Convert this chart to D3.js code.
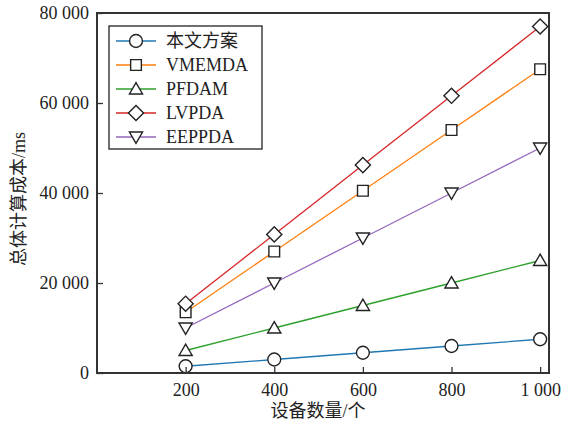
<!DOCTYPE html>
<html>
<head>
<meta charset="utf-8">
<script src="https://cdn.jsdelivr.net/npm/d3@7"></script>
<style>
  body { margin: 0; background: #fff; }
  text { font-family: "Liberation Serif", "Noto Sans CJK SC", serif; fill: #222; }
</style>
</head>
<body>
<svg id="chart" width="563" height="428"></svg>
<script>
// device counts on the x axis
var devices = [200, 400, 600, 800, 1000];

// total computation cost (ms) per scheme
var names = ['本文方案', 'VMEMDA', 'PFDAM', 'LVPDA', 'EEPPDA'];
var ours   = [1500, 3000, 4500, 6000, 7500];
var vmemda = [13500, 27000, 40500, 54000, 67500];
var pfdam  = [5000, 10000, 15000, 20000, 25000];
var lvpda  = [15400, 30800, 46200, 61600, 77000];
var eeppda = [10000, 20000, 30000, 40000, 50000];

var yTicks = [0, 20000, 40000, 60000, 80000];
var xTicks = [200, 400, 600, 800, 1000];

var colors  = ['#1f77b4', '#ff7f0e', '#2ca02c', '#d62728', '#9467bd'];
var symbols = [d3.symbolCircle, d3.symbolSquare, d3.symbolTriangle, d3.symbolSquare, d3.symbolTriangle];
var symSize = [130, 115, 75, 115, 75];
var symRot  = [0, 0, 0, 45, 180];

var series = [ours, vmemda, pfdam, lvpda, eeppda];

var svg = d3.select('#chart');
var m = { left: 97, right: 549, top: 13, bottom: 373 };

var x = d3.scaleLinear().domain([0, 1020]).range([m.left, m.right]);
var y = d3.scaleLinear().domain([0, 80000]).range([m.bottom, m.top]);

function fmt(v) {
  return d3.format(',')(v).replace(/,/g, ' ');
}

// lines
var line = d3.line()
  .x(function(d, i) { return x(devices[i]); })
  .y(function(d) { return y(d); });

series.forEach(function(s, k) {
  svg.append('path')
    .attr('d', line(s))
    .attr('fill', 'none')
    .attr('stroke', colors[k])
    .attr('stroke-width', 1.3);
});

function marker(g, k) {
  return g.append('path')
    .attr('d', d3.symbol().type(symbols[k]).size(symSize[k])())
    .attr('fill', '#fff')
    .attr('stroke', '#222')
    .attr('stroke-width', 1.4);
}

function tri(k) {
  return symbols[k] === d3.symbolTriangle ? (symRot[k] ? -1.2 : 1.2) : 0;
}

series.forEach(function(s, k) {
  s.forEach(function(v, i) {
    marker(svg, k)
      .attr('transform', 'translate(' + x(devices[i]) + ',' + (y(v) + tri(k)) + ') rotate(' + symRot[k] + ')');
  });
});

// axes (inward ticks)
var xAxis = d3.axisBottom(x).tickValues(xTicks).tickSizeInner(-6).tickSizeOuter(0)
  .tickPadding(10).tickFormat(fmt);
var yAxis = d3.axisLeft(y).tickValues(yTicks).tickSizeInner(-6).tickSizeOuter(0)
  .tickPadding(8).tickFormat(fmt);

var gx = svg.append('g').attr('transform', 'translate(0,' + m.bottom + ')').call(xAxis);
var gy = svg.append('g').attr('transform', 'translate(' + m.left + ',0)').call(yAxis);
[gx, gy].forEach(function(g) {
  g.select('.domain').remove();
  g.selectAll('.tick line').attr('stroke', '#333').attr('stroke-width', 1.3);
  g.selectAll('.tick text').style('font-size', '18px').attr('fill', '#222');
});

// frame
svg.append('rect')
  .attr('x', m.left).attr('y', m.top)
  .attr('width', m.right - m.left).attr('height', m.bottom - m.top)
  .attr('fill', 'none').attr('stroke', '#333').attr('stroke-width', 2);

// axis titles
svg.append('text')
  .attr('x', 318).attr('y', 417)
  .attr('text-anchor', 'middle').style('font-size', '18px')
  .text('设备数量/个');
svg.append('text')
  .attr('transform', 'translate(25,199) rotate(-90)')
  .attr('text-anchor', 'middle').style('font-size', '18px')
  .text('总体计算成本/ms');

// legend
var lg = svg.append('g').attr('transform', 'translate(109,26)');
lg.append('rect').attr('width', 153).attr('height', 123)
  .attr('fill', '#fff').attr('stroke', '#222').attr('stroke-width', 1.3);
names.forEach(function(n, k) {
  var ly = 15 + k * 24;
  lg.append('line').attr('x1', 7).attr('x2', 47).attr('y1', ly).attr('y2', ly)
    .attr('stroke', colors[k]).attr('stroke-width', 1.3);
  marker(lg, k).attr('transform', 'translate(27,' + (ly + tri(k)) + ') rotate(' + symRot[k] + ')');
  lg.append('text').attr('x', 57).attr('y', ly + 6).style('font-size', '18px').text(n);
});
</script>
</body>
</html>
